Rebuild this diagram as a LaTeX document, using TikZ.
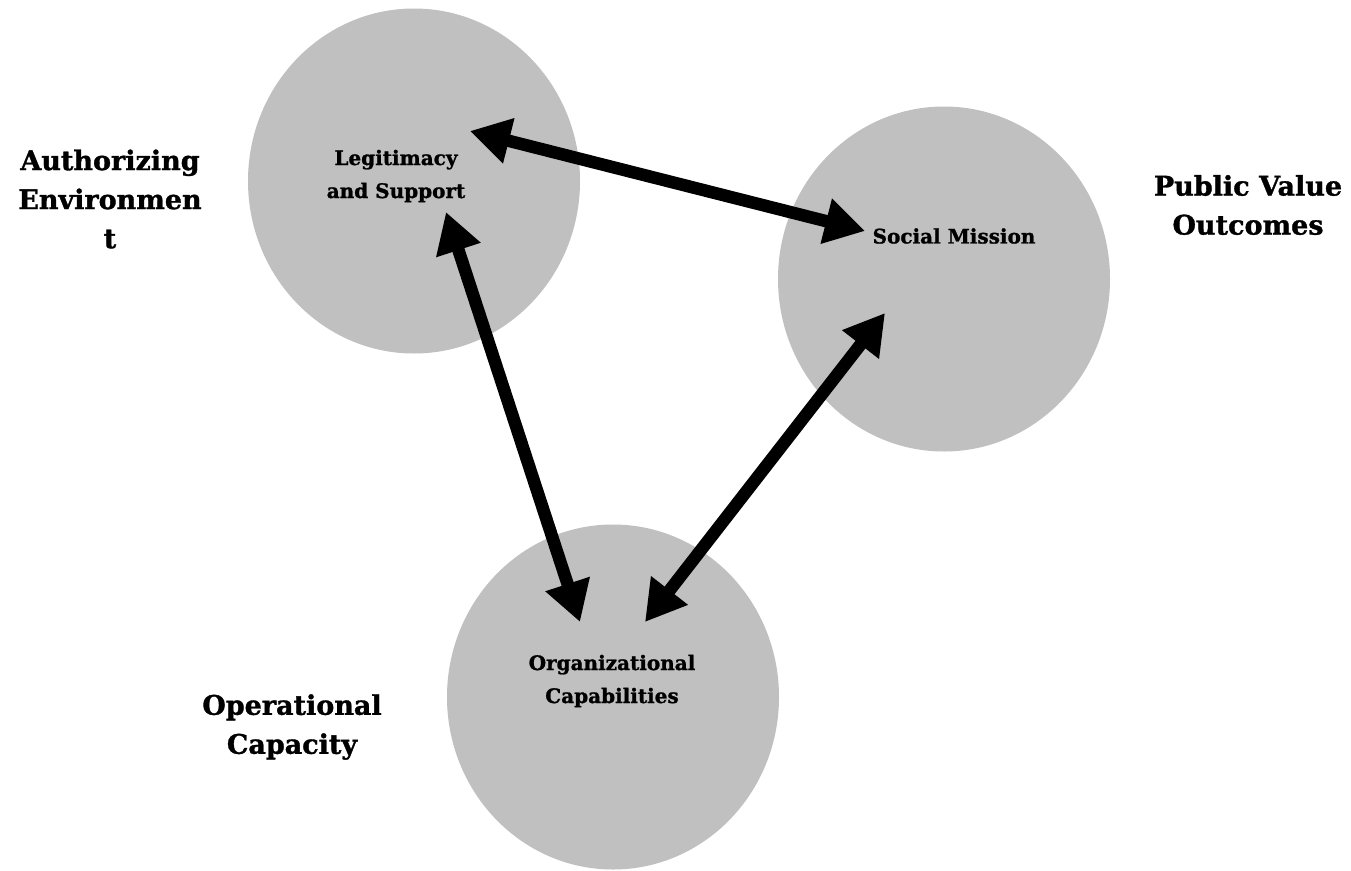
\documentclass[tikz,border=0pt]{standalone}
\usepackage{fontspec}
\setmainfont{DejaVu Serif}[BoldFeatures={FakeBold=1.2}]
\usetikzlibrary{arrows.meta,shapes.geometric}
\definecolor{blobgray}{HTML}{C0C0C0}
\begin{document}
\begin{tikzpicture}[x=1pt,y=-1pt,
  blob/.style={ellipse,fill=blobgray,draw=none,inner sep=0pt,
    minimum width=332pt,minimum height=345pt},
  biglabel/.style={align=center,inner sep=0pt,
    font=\bfseries\fontsize{27}{39}\selectfont},
  smalllabel/.style={align=center,inner sep=0pt,
    font=\bfseries\fontsize{20}{33}\selectfont},
  link/.style={line width=12.5pt,{Triangle[length=40pt,width=44pt]}-{Triangle[length=40pt,width=44pt]}}]
  % canvas
  \path[use as bounding box] (0,0) rectangle (1351,870);
  \fill[white] (0,0) rectangle (1351,870);

  % the three domains
  \node[blob] (legit) at (414,181) {};
  \node[blob] (social) at (944,279) {};
  \node[blob] (org) at (613,697) {};

  % texts inside the domains
  \node[smalllabel] (legitT) at (396,176) {Legitimacy\\and Support};
  \node[smalllabel] (socialT) at (954,236) {Social Mission};
  \node[smalllabel] (orgT) at (612,681) {Organizational\\Capabilities};

  % outer labels
  \node[biglabel] (auth) at (110,199) {Authorizing\\Environmen\\t};
  \node[biglabel] (pvo) at (1248,205) {Public Value\\Outcomes};
  \node[biglabel] (opc) at (292,727) {Operational\\Capacity};

  % arrow ends
  \coordinate (legitR) at (470,131);
  \coordinate (socialL) at (865,231);
  \coordinate (legitB) at (446,212);
  \coordinate (orgL) at (580,622);
  \coordinate (socialB) at (885,313);
  \coordinate (orgR) at (645,622);

  % two-way links
  \draw[link] (legitR) -- (socialL);
  \draw[link] (legitB) -- (orgL);
  \draw[link] (socialB) -- (orgR);
\end{tikzpicture}
\end{document}
